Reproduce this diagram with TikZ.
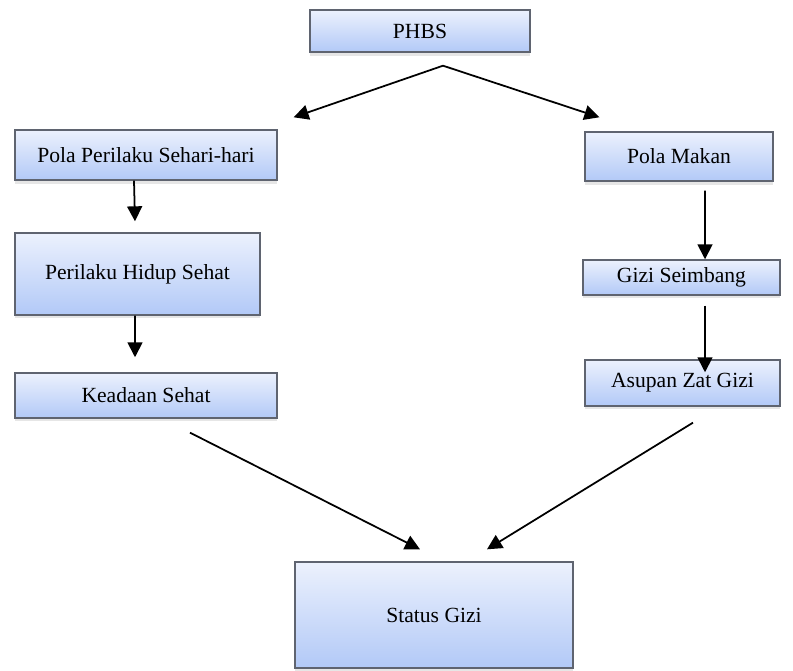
\documentclass[tikz,border=0pt]{standalone}
\usepackage{fontspec}
\setmainfont{Liberation Serif}
\usepackage{tikz}
\usetikzlibrary{arrows.meta,shadows}
\definecolor{boxtop}{RGB}{236,241,253}
\definecolor{boxbot}{RGB}{178,201,247}
\definecolor{boxline}{RGB}{95,100,112}

\begin{document}
\begin{tikzpicture}[x=0.02cm, y=-0.02cm]
        \tikzstyle{block} = [rectangle, draw=boxline, line width=0.8pt, top color=boxtop, bottom color=boxbot, text centered, inner sep=0pt, font=\fontsize{12.3}{14}\selectfont, drop shadow={opacity=0.2, shadow xshift=0pt, shadow yshift=-2pt}]
        \tikzstyle{line} = [draw, line width=1pt, -{Triangle[length=8.5pt, width=8.5pt]}]
        \useasboundingbox (0,0) rectangle (793,671);

        \node [block, minimum width=4.4cm, minimum height=0.84cm] (phbs) at (420,31) {PHBS};
        \node [block, minimum width=5.24cm, minimum height=1cm] (polaperilaku) at (146,155) {Pola Perilaku Sehari-hari};
        \node [block, minimum width=4.9cm, minimum height=1.64cm, below of=polaperilaku, node distance=2.38cm, xshift=-0.17cm] (hidupsehat) {Perilaku Hidup Sehat};
        \node [block, minimum width=5.24cm, minimum height=0.9cm, below of=hidupsehat, node distance=2.43cm, xshift=0.17cm] (keadaansehat) {Keadaan Sehat};
        \node [block, minimum width=3.76cm, minimum height=0.98cm] (polamakan) at (679,156.5) {Pola Makan};
        \node [block, minimum width=3.94cm, minimum height=0.7cm, below of=polamakan, node distance=2.42cm, xshift=0.05cm] (gizi) {Gizi Seimbang};
        \node [block, minimum width=3.9cm, minimum height=0.92cm, below of=gizi, node distance=2.11cm, xshift=0.02cm] (asupan) {Asupan Zat Gizi};
        \node [block, minimum width=5.56cm, minimum height=2.12cm] (statusgizi) at (434,615) {Status Gizi};

        \path [line] ([shift={(23,13)}]phbs.south) -- ([shift={(16,-12)}]polaperilaku.north east);
        \path [line] ([shift={(23,13)}]phbs.south) -- ([shift={(15,-14)}]polamakan.north west);
        \path [line] ([shift={(-12,0)}]polaperilaku.south) -- ([shift={(-2.5,-11)}]hidupsehat.north);
        \path [line] ([shift={(-2.5,0)}]hidupsehat.south) -- ([shift={(-11,-15)}]keadaansehat.north);
        \path [line] ([shift={(26,9)}]polamakan.south) -- ([shift={(23.5,0)}]gizi.north);
        \path [line] ([shift={(23.5,10)}]gizi.south) -- ([shift={(22.5,13)}]asupan.north);
        \path [line] ([shift={(44,14)}]keadaansehat.south) -- ([shift={(-14,-12)}]statusgizi.north);
        \path [line] ([shift={(10.5,16)}]asupan.south) -- ([shift={(53,-12)}]statusgizi.north);
    \end{tikzpicture}
\end{document}
